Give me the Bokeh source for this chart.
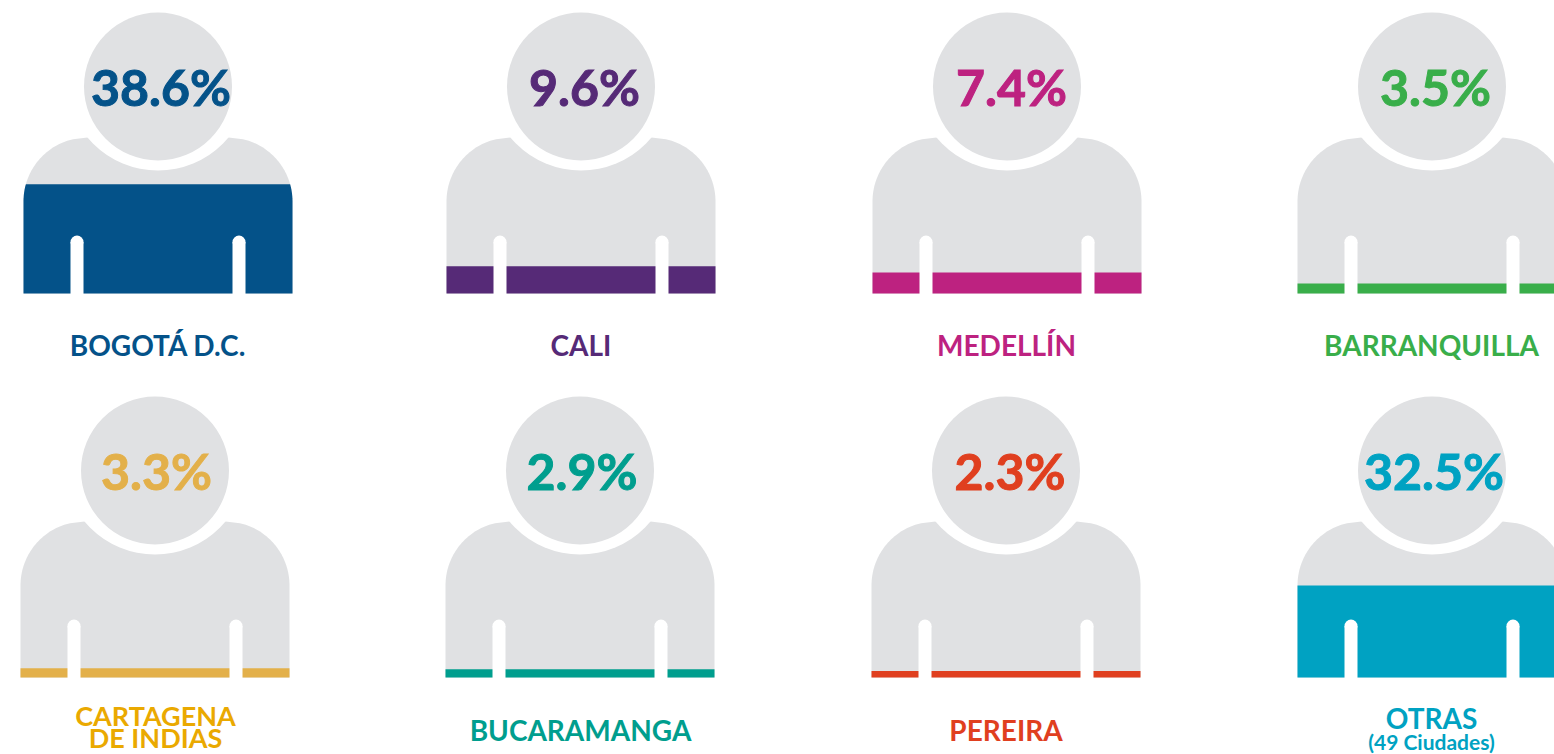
import numpy as np
from bokeh.plotting import figure
from bokeh.models import ColumnDataSource, Range1d
from bokeh.core.properties import value
from bokeh.embed import file_html
from bokeh.resources import INLINE

cities = ["BOGOTÁ D.C.", "CALI", "MEDELLÍN", "BARRANQUILLA",
          "CARTAGENA", "BUCARAMANGA", "PEREIRA", "OTRAS"]
shares = [38.6, 9.6, 7.4, 3.5, 3.3, 2.9, 2.3, 32.5]
share_colors = ["#045289", "#562a77", "#bd2280", "#39ae4a", "#e3b04a", "#009e8e", "#e03f1f", "#00a2c2"]
label_colors = ["#045289", "#562a77", "#bd2280", "#39ae4a", "#eaa900", "#009e8e", "#e03f1f", "#00a2c2"]
second_line = ["DE INDIAS", "(49 Ciudades)"]
second_city = [4, 7]

body_left = [23, 446, 872, 1297, 20, 445, 871, 1297]
head_top = [12, 12, 12, 12, 396, 396, 396, 396]
pct_x = [160.5, 584, 1011, 1435, 156, 581.5, 1009.5, 1433.5]
label_x = [157.5, 580.5, 1006, 1431, 155, 580, 1005.5, 1431]
label_y = [344, 344, 344, 344, 715, 729, 729, 717]
label_size = ["28px", "28px", "28px", "28px", "27px", "28px", "28px", "28px"]
second_y = [737, 741]
second_size = ["27px", "21px"]

GRAY = "#e0e1e3"
BODY_W, HEAD_R, CORNER = 269, 74, 64
PERSON_H = 281
FILL_H = 283


def edge_inset(y, body_top):
    dy = body_top + CORNER - y
    return CORNER - np.sqrt(np.maximum(CORNER ** 2 - np.maximum(dy, 0) ** 2, 0))


p = figure(width=1554, height=754, x_range=Range1d(0, 1554), y_range=Range1d(754, 0),
           output_backend="svg", toolbar_location=None, min_border=0,
           x_axis_location=None, y_axis_location=None)
p.grid.visible = False
p.outline_line_color = None
p.background_fill_color = "white"

for i, city in enumerate(cities):
    L, T = body_left[i], head_top[i]
    cx = L + BODY_W / 2
    cy = T + HEAD_R
    bottom = T + PERSON_H
    body_top = T + 125

    ys = np.linspace(body_top, body_top + CORNER, 40)
    ins = edge_inset(ys, body_top)
    xs_out = np.concatenate([L + ins, [L, L + BODY_W], (L + BODY_W - ins)[::-1]])
    ys_out = np.concatenate([ys, [bottom, bottom], ys[::-1]])
    p.patch(xs_out, ys_out, fill_color=GRAY, line_color=None)

    top = bottom - FILL_H * shares[i] / 100
    yf = np.linspace(top, bottom, 40)
    insf = edge_inset(yf, body_top)
    p.patch(np.concatenate([L + insf, (L + BODY_W - insf)[::-1]]),
            np.concatenate([yf, yf[::-1]]), fill_color=share_colors[i], line_color=None)

    p.circle([cx], [cy - 8], radius=92, fill_color="white", line_color=None)
    p.circle([cx], [cy], radius=HEAD_R, fill_color=GRAY, line_color=None)

    for sx in (L + 47, L + 209):
        p.quad(left=[sx], right=[sx + 13], top=[T + 229.5], bottom=[bottom + 0.5],
               fill_color="white", line_color=None)
        p.circle([sx + 6.5], [T + 229.5], radius=6.5, fill_color="white", line_color=None)

src = ColumnDataSource(dict(px=pct_x, py=[h + 74 for h in head_top],
                            pct=[f"{s}%" for s in shares], col=share_colors,
                            lx=label_x, ly=label_y, lab=cities, lcol=label_colors, fs=label_size))
p.text("px", "py", text="pct", text_color="col", source=src, text_font=value("Lato"),
       text_font_style="bold", text_font_size="50px", text_align="center", text_baseline="middle",
       text_outline_color="col")
p.text("lx", "ly", text="lab", text_color="lcol", source=src, text_font=value("Lato"),
       text_font_style="bold", text_font_size={"field": "fs"}, text_align="center", text_baseline="middle")
src2 = ColumnDataSource(dict(x=[label_x[k] for k in second_city], y=second_y, t=second_line,
                             c=[label_colors[k] for k in second_city], fs=second_size))
p.text("x", "y", text="t", text_color="c", source=src2, text_font=value("Lato"),
       text_font_style="bold", text_font_size={"field": "fs"}, text_align="center", text_baseline="middle")

open("out.html", "w").write(file_html(p, INLINE))
